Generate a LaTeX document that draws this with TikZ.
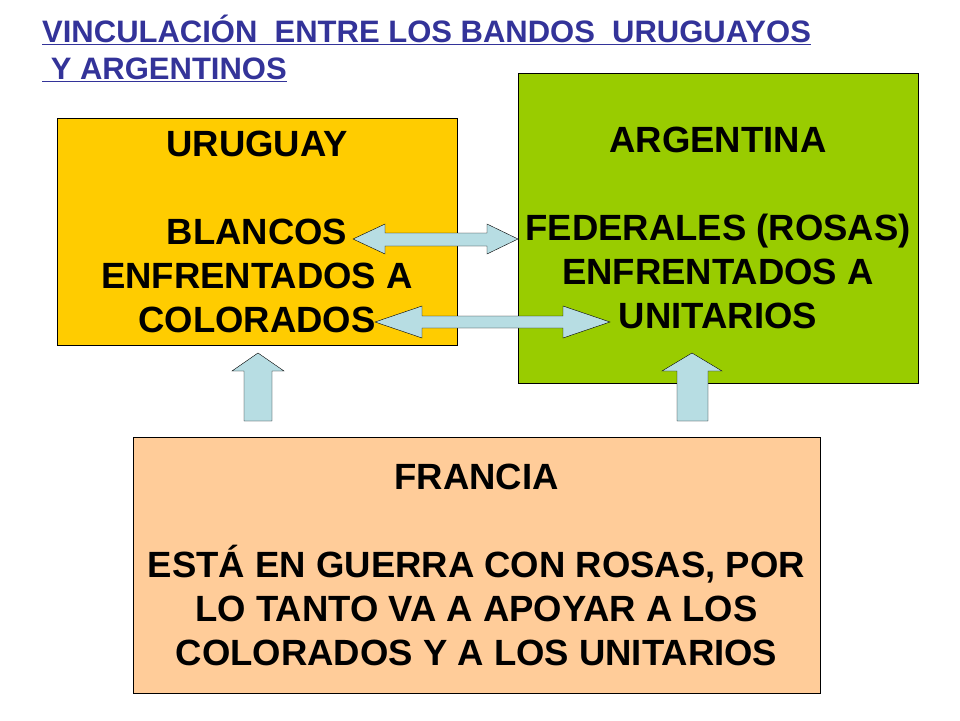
\documentclass[tikz,border=0pt]{standalone}
\usepackage{fontspec}
\setmainfont{Liberation Sans}
\definecolor{titleblue}{HTML}{333399}
\definecolor{urugold}{HTML}{FFCC00}
\definecolor{arggreen}{HTML}{99CC00}
\definecolor{franpeach}{HTML}{FFCC99}
\definecolor{arrowblue}{HTML}{B7DDE3}

\begin{document}
\begin{tikzpicture}[x=1pt,y=-1pt,
  box/.style={rectangle,draw=black,thin,align=center,inner sep=0pt,
    font=\fontsize{36.5}{44}\selectfont\bfseries},
  title/.style={anchor=west,inner sep=0pt,text=titleblue,
    font=\fontsize{31}{36}\selectfont\bfseries},
  blockarrow/.style={fill=arrowblue,draw=black,thin,line join=miter}]

  \useasboundingbox (0,0) rectangle (960,720);

  % title
  \node[title] (title1) at (42,30) {\underline{VINCULACIÓN\ \ ENTRE LOS BANDOS\ \ URUGUAYOS}};
  \node[title] (title2) at (42,70) {\underline{\ Y ARGENTINOS}};

  % boxes
  \node[box,fill=urugold,minimum width=400,minimum height=227] (uruguay) at (257,231.5)
    {URUGUAY\\ \\BLANCOS\\ENFRENTADOS A\\COLORADOS};
  \node[box,fill=arggreen,minimum width=400,minimum height=310] (argentina) at (718,228)
    {ARGENTINA\\ \\FEDERALES (ROSAS)\\ENFRENTADOS A\\UNITARIOS};
  \node[box,fill=franpeach,minimum width=687,minimum height=256] (francia) at (476.5,565)
    {FRANCIA\\ \\ESTÁ EN GUERRA CON ROSAS, POR\\LO TANTO VA A APOYAR A LOS\\COLORADOS Y A LOS UNITARIOS};

  % double arrows between the two countries
  \filldraw[blockarrow] (353,239) -- (385,224) -- (385,233) -- (487,233) -- (487,224)
    -- (518,239) -- (487,254) -- (487,246) -- (385,246) -- (385,254) -- cycle;
  \filldraw[blockarrow] (375,322) -- (422,306) -- (422,316) -- (563,316) -- (563,306)
    -- (610,322) -- (563,338) -- (563,328) -- (422,328) -- (422,338) -- cycle;

  % support arrows from Francia
  \filldraw[blockarrow] (258,353) -- (284,371) -- (272,371) -- (272,421) -- (244,421)
    -- (244,371) -- (232,371) -- cycle;
  \filldraw[blockarrow] (692,353) -- (722,371) -- (708,371) -- (708,421) -- (677,421)
    -- (677,371) -- (662,371) -- cycle;
\end{tikzpicture}
\end{document}
